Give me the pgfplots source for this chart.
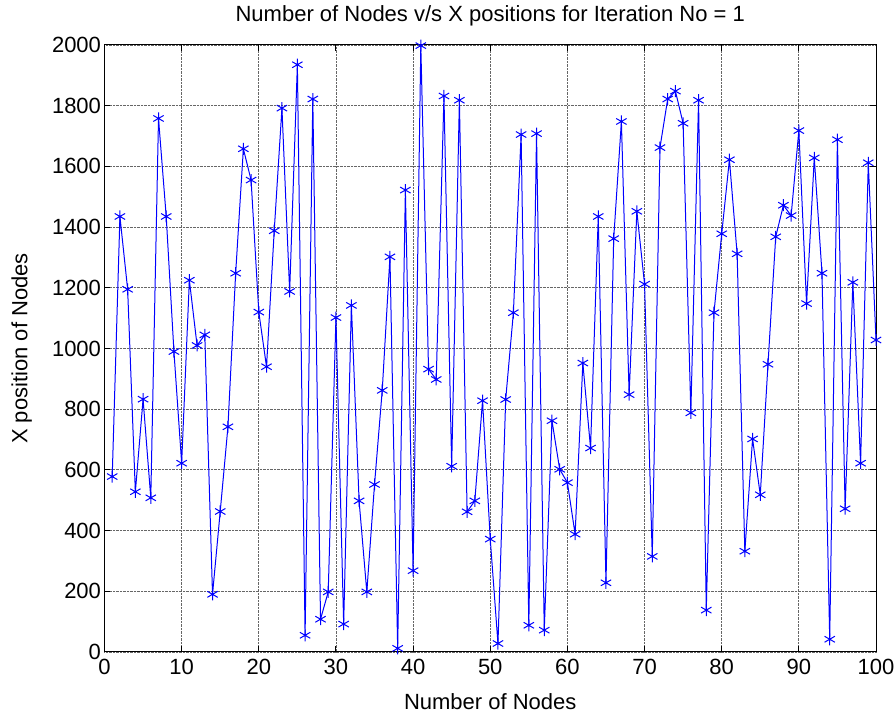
\documentclass[border=0pt]{standalone}
\usepackage{pgfplots}
\pgfplotsset{compat=1.18}
\usepackage{fontspec}
\setmainfont{Liberation Sans}
\begin{document}
\begin{tikzpicture}
\useasboundingbox (-104.5pt,-63pt) rectangle (790.5pt,652pt);
\begin{axis}[
  at={(0pt,0pt)}, anchor=south west,
  scale only axis,
  width=771.5pt, height=607pt,
  xmin=0, xmax=100, ymin=0, ymax=2000,
  xtick={0,10,...,100}, ytick={0,200,...,2000},
  tick align=inside,
  major tick length=6pt,
  grid=major,
  major grid style={densely dotted, black!60, line width=0.8pt},
  axis line style={black, line width=1pt},
  tick style={black, line width=1pt},
  /pgf/number format/assume math mode=true,
  /pgf/number format/1000 sep={},
  ticklabel style={font=\fontsize{22}{26}\selectfont},
  xticklabel style={yshift=-4pt},
  yticklabel style={xshift=0pt},
  label style={font=\fontsize{22}{26}\selectfont},
  title style={font=\fontsize{22}{26}\selectfont, at={(axis description cs:0.5,1)}, anchor=base, yshift=17pt},
  title={Number of Nodes v/s X positions for Iteration No = 1},
  xlabel={Number of Nodes},
  ylabel={X position of Nodes},
  xlabel style={at={(axis description cs:0.5,0)}, anchor=base, yshift=-58pt},
  ylabel style={at={(axis description cs:0,0.5)}, anchor=base, yshift=77pt},
]
\addplot[color=blue, line width=1pt, mark=asterisk, mark size=6pt, mark options={line width=1pt}] coordinates {
(1,578) (2,1435) (3,1195) (4,528) (5,833) (6,508) (7,1758) (8,1435) (9,990) (10,622)
(11,1225) (12,1010) (13,1045) (14,190) (15,463) (16,742) (17,1248) (18,1658) (19,1555) (20,1120)
(21,940) (22,1388) (23,1792) (24,1188) (25,1935) (26,55) (27,1822) (28,108) (29,198) (30,1102)
(31,92) (32,1142) (33,498) (34,198) (35,552) (36,862) (37,1302) (38,12) (39,1522) (40,268)
(41,1998) (42,932) (43,898) (44,1832) (45,612) (46,1818) (47,462) (48,498) (49,828) (50,372)
(51,28) (52,832) (53,1118) (54,1705) (55,88) (56,1708) (57,72) (58,762) (59,602) (60,558)
(61,388) (62,952) (63,672) (64,1435) (65,228) (66,1362) (67,1748) (68,848) (69,1452) (70,1212)
(71,315) (72,1662) (73,1822) (74,1848) (75,1742) (76,788) (77,1818) (78,138) (79,1118) (80,1378)
(81,1622) (82,1312) (83,332) (84,702) (85,518) (86,948) (87,1368) (88,1472) (89,1438) (90,1718)
(91,1148) (92,1628) (93,1248) (94,42) (95,1688) (96,472) (97,1218) (98,622) (99,1612) (100,1028)
};
\end{axis}
\end{tikzpicture}
\end{document}
